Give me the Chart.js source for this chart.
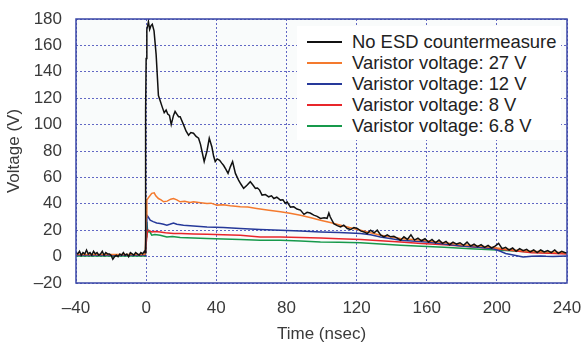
<!DOCTYPE html>
<html>
<head>
<meta charset="utf-8">
<script src="https://cdn.jsdelivr.net/npm/chart.js@4/dist/chart.umd.min.js"></script>
<style>
  body { margin: 0; background: #fff; }
  #wrap { position: relative; width: 583px; height: 343px; }
  #legend {
    position: absolute; left: 297px; top: 26px; width: 264px; height: 114px;
    background: #fff; padding-top: 6px; box-sizing: border-box;
    font-family: "Liberation Sans", Arial, sans-serif; font-size: 18.4px; color: #222;
  }
  .row { display: flex; align-items: center; height: 20.8px; white-space: nowrap; }
  .swatch { width: 35px; height: 2px; margin: 0 10px 0 10px; }
</style>
</head>
<body>
<div id="wrap">
  <canvas id="chart" width="583" height="343"></canvas>
  <div id="legend"></div>
</div>
<script>
// values (time in ns, voltage in V)
const seriesLabels = [
  "No ESD countermeasure",
  "Varistor voltage: 27 V",
  "Varistor voltage: 12 V",
  "Varistor voltage: 8 V",
  "Varistor voltage: 6.8 V",
];
const seriesColors = ["#111111", "#f47a2e", "#26399a", "#e8262b", "#17994b"];

const xTicks = [-40, 0, 40, 80, 120, 160, 200, 240];
const yTicks = [-20, 0, 20, 40, 60, 80, 100, 120, 140, 160, 180];

const blackTime = [
  -40, -39, -38, -37, -36, -35, -34, -33, -32, -31, -30, -29, -28, -27, -26, -25, -24, -23, -22, -21,
  -20, -19, -18, -17, -16, -15, -14, -13, -12, -11, -10, -9, -8, -7, -6, -5, -4, -3, -2, -1,
  -0.5, -0.4, -0.2, 0, 0.4, 1, 1.3, 2, 2.8, 3.5, 4.5, 5.7, 7, 8, 9, 10.3, 11.4, 12.3, 13.3, 14.3,
  15.6, 16.5, 17.5, 18.5, 19.4, 21.3, 22.8, 24.2, 25.5, 27, 28.5, 29.9, 31, 31.8, 33.1, 34.7, 36, 37.5,
  38.5, 39.4, 40.5, 41.9, 43, 44.2, 45.5, 46.7, 48, 49.3, 50.9, 52.7, 54, 55.6, 57.5, 59.4, 61, 62.3,
  63.5, 64.7, 66.1, 68, 69.9, 71.5, 72.8, 74.5, 76.6, 78, 79.4, 80.4, 82.3, 84.2, 86, 88, 90, 91.8,
  93.5, 95.6, 97.5, 99.4, 101.5, 103.2, 104.2, 105, 107, 109, 110.9, 112.7, 114.7, 116.6, 118.5, 120.4,
  122.3, 124.2, 126.1, 128, 130, 131.8, 133.7, 135.6, 137.5, 139.4, 141.3, 143.2, 145.1, 147, 149, 151,
  153, 155, 157, 159, 161, 163, 165, 167, 169, 171, 173, 175, 177, 179, 181, 183, 185, 187, 189, 191,
  193, 195, 197, 199, 201, 203, 205, 207, 209, 211, 213, 215, 217, 219, 221, 223, 225, 227, 229, 231,
  233, 235, 237, 239, 240,
];
const blackVolt = [
  3, 2, 4, 1, 3, 2, 5, 2, 3, 1, 4, 2, 3, 1, 2, 4, 1, 3, 2, 2,
  1, -2, 0, 1, 0, 2, 1, 3, 1, 2, 0, 3, 2, 1, 3, 2, 1, 3, 2, 4,
  3, 108, 110, 150, 172, 176, 178, 172, 175, 176, 171, 153, 122, 118, 114, 109, 111, 108, 107, 100,
  107, 110, 108, 106, 106, 100, 95, 92, 94, 93.5, 91, 89.7, 85, 80, 72, 80, 89.6, 83,
  76, 72, 74, 73, 71, 69, 66, 63, 68, 72, 63, 58, 55, 51.7, 54, 56.7, 54, 51.7,
  52, 50.4, 46.6, 47, 45.3, 46, 44, 45, 42.8, 43, 40.3, 41.5, 37.5, 37.7, 36, 35.2, 32, 33.5,
  33, 31.4, 30.5, 28.9, 29.5, 29, 33, 30, 25, 23.5, 22.5, 23.8, 21.3, 20.5, 22, 21.3,
  19.5, 18.7, 17.5, 20, 18, 20, 16.5, 14.9, 16.5, 15, 15.4, 14, 12.4, 15, 13, 16.5,
  12.5, 14, 12, 13.5, 11, 13, 10.5, 12.5, 10, 11.5, 9, 11, 9.5, 10.5, 8.5, 11, 8, 9.5, 7.5, 9,
  7, 8.5, 6.5, 8, 10, 6, 7, 5, 6.5, 4, 6, 4.5, 5.5, 3.5, 5, 3, 5, 3.5, 4.5, 3,
  5, 2.5, 4, 3, 3,
];

const orangeTime = [
  -40, -20, -1, -0.5, 0, 0.4, 1.5, 3.2, 4.6, 5.5, 7, 8.5, 10, 12, 14, 15.6, 17.5, 19.4, 22, 25,
  27, 30, 34.7, 37, 40.4, 44, 48, 53.7, 58, 63, 70, 76.6, 82, 88, 94, 99.4, 105, 110.9, 116, 122.3,
  128, 133.7, 140, 145.1, 152, 160, 170, 180, 190, 200, 210, 220, 230, 240,
];
const orangeVolt = [
  1.5, 1.5, 1.5, 2, 30, 42.8, 45, 47.9, 48.3, 46, 44, 43, 41.5, 42, 43.5, 44, 43, 41.5, 42, 41,
  41.5, 41, 40.3, 40.5, 39, 39.3, 38.5, 37.7, 37.5, 36.5, 35.2, 33.9, 32.8, 31.4, 29.5, 27.6, 25.8, 23.8, 22, 20,
  18, 16.2, 14.8, 13.7, 13, 12, 10.5, 9, 8, 6.5, 5, 4, 3.5, 3,
];

const blueTime = [
  -40, -1, -0.5, 0, 0.4, 1.2, 2.3, 4, 6, 8, 10, 11.8, 13.5, 15.6, 17.5, 21.3, 27, 34.7, 44, 53.7,
  65, 76.6, 88, 99.4, 110, 122.3, 128, 133.7, 140, 145.1, 160, 170, 180, 190, 198, 202, 205, 210,
  215, 220, 225, 228, 232, 236, 240,
];
const blueVolt = [
  1, 1, 1, 20, 31.4, 30, 27.6, 26.5, 25.5, 25, 24.5, 23.8, 24.5, 25.5, 24.5, 23.8, 23.2, 22.5, 22, 21.3,
  20.5, 20, 19.3, 18.7, 18.2, 17.5, 16.5, 14.9, 13.5, 12.4, 11, 9.5, 8, 7, 6, 4, 2.3, 1,
  -0.3, 0.2, 0.5, 0.2, 0, 0.3, 0.5,
];

const redTime = [
  -40, -1, -0.5, 0, 0.8, 1.3, 3.2, 5, 8, 11, 15.6, 20, 27, 34.7, 44, 53.7, 65, 76.6, 88, 99.4,
  110, 122.3, 133.7, 145.1, 157, 170, 185, 200, 210, 220, 230, 240,
];
const redVolt = [
  1, 1, 1, 10, 19, 20, 18.7, 19, 18.7, 18, 17.5, 17.5, 17.2, 17, 16.6, 16.2, 14.9, 14.9, 14.5, 14,
  13.5, 12.9, 12, 11.1, 10, 9, 7.5, 6, 4.5, 3, 2.5, 2,
];

const greenTime = [
  -40, -1, -0.5, 0, 0.4, 0.8, 1.3, 2, 3.2, 5, 8, 11.8, 15, 19.4, 27, 34.7, 44, 53.7, 65, 76.6,
  88, 99.4, 110, 122.3, 133.7, 145.1, 157, 170, 185, 200, 210, 220, 230, 240,
];
const greenVolt = [
  0.5, 0.5, 0.5, 15, 26.3, 20, 18.7, 19, 16.2, 16.8, 16.2, 14.9, 15.2, 14.4, 14, 13.7, 13.3, 12.9, 12.4, 12.4,
  11.8, 11.1, 10.8, 10.4, 9.5, 8.6, 7.8, 7, 6, 5, 4.2, 3.5, 3, 2.5,
];

const seriesTimes = [blackTime, orangeTime, blueTime, redTime, greenTime];
const seriesVolts = [blackVolt, orangeVolt, blueVolt, redVolt, greenVolt];

const tickFont = { family: "'Liberation Sans', Arial, sans-serif", size: 17 };
const gridStyle = { color: "#6167c4", lineWidth: 1, drawTicks: false };
const dotted = { display: false, dash: [2, 2] };

const plotFrame = {
  id: "plotFrame",
  beforeDraw(chart) {
    const { ctx, chartArea: a } = chart;
    ctx.save();
    ctx.fillStyle = "#f9fbfb";
    ctx.fillRect(a.left, a.top, a.right - a.left, a.bottom - a.top);
    ctx.restore();
  },
  afterDraw(chart) {
    const { ctx, chartArea: a } = chart;
    ctx.save();
    ctx.strokeStyle = "#3a47a6";
    ctx.lineWidth = 1.5;
    ctx.strokeRect(a.left, a.top, a.right - a.left, a.bottom - a.top);
    ctx.restore();
  },
};

const datasets = seriesLabels.map((label, i) => ({
  label: label,
  data: seriesTimes[i].map((t, j) => ({ x: t, y: seriesVolts[i][j] })),
  borderColor: seriesColors[i],
  borderWidth: 1.5,
  pointRadius: 0,
  tension: 0,
}));

const chart = new Chart(document.getElementById("chart"), {
  type: "line",
  data: { datasets: datasets },
  options: {
    responsive: false,
    animation: false,
    layout: { padding: { top: 19, right: 16, left: 0, bottom: 0 } },
    plugins: { legend: { display: false }, tooltip: { enabled: false } },
    scales: {
      x: {
        type: "linear",
        min: xTicks[0],
        max: xTicks[xTicks.length - 1],
        afterBuildTicks: (s) => { s.ticks = xTicks.map((v) => ({ value: v })); },
        afterFit: (s) => {
          s.height = 60;
          s.paddingLeft = 0;
          s.paddingRight = 0;
        },
        grid: gridStyle,
        border: dotted,
        ticks: {
          font: tickFont,
          color: "#3a3a3a",
          padding: 15,
          maxRotation: 0,
          callback: (v) => String(v).replace("-", "\u2013"),
        },
        title: {
          display: true,
          text: "Time (nsec)",
          font: tickFont,
          color: "#3a3a3a",
          padding: { top: 0, bottom: -2 },
        },
      },
      y: {
        min: yTicks[0],
        max: yTicks[yTicks.length - 1],
        afterBuildTicks: (s) => { s.ticks = yTicks.map((v) => ({ value: v })); },
        afterFit: (s) => {
          s.width = 76;
          s.paddingTop = 0;
          s.paddingBottom = 0;
        },
        grid: gridStyle,
        border: dotted,
        ticks: {
          font: tickFont,
          color: "#3a3a3a",
          padding: 14,
          callback: (v) => String(v).replace("-", "\u2013"),
        },
        title: {
          display: true,
          text: "Voltage (V)",
          font: tickFont,
          color: "#3a3a3a",
          padding: { top: 4, bottom: 0 },
        },
      },
    },
  },
  plugins: [plotFrame],
});

// legend drawn as html on top of the plot area
const legendBox = document.getElementById("legend");
chart.data.datasets.forEach((ds) => {
  const row = document.createElement("div");
  row.className = "row";
  const sw = document.createElement("span");
  sw.className = "swatch";
  sw.style.background = ds.borderColor;
  const txt = document.createElement("span");
  txt.textContent = ds.label;
  row.appendChild(sw);
  row.appendChild(txt);
  legendBox.appendChild(row);
});
</script>
</body>
</html>
